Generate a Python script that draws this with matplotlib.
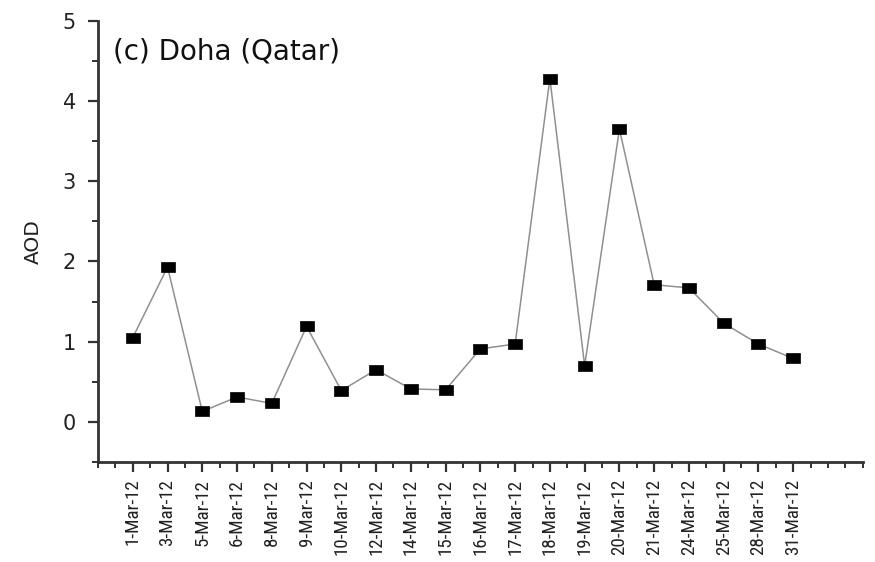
import matplotlib
matplotlib.use("Agg")
import matplotlib.pyplot as plt
from matplotlib.ticker import MultipleLocator
from matplotlib import font_manager
from matplotlib.font_manager import FontProperties

dates = ["1-Mar-12", "3-Mar-12", "5-Mar-12", "6-Mar-12", "8-Mar-12", "9-Mar-12",
         "10-Mar-12", "12-Mar-12", "14-Mar-12", "15-Mar-12", "16-Mar-12", "17-Mar-12",
         "18-Mar-12", "19-Mar-12", "20-Mar-12", "21-Mar-12", "24-Mar-12", "25-Mar-12",
         "28-Mar-12", "31-Mar-12"]
aod = [1.05, 1.93, 0.13, 0.31, 0.23, 1.19, 0.39, 0.65, 0.41, 0.40, 0.91, 0.97,
       4.28, 0.70, 3.65, 1.71, 1.67, 1.23, 0.97, 0.79]
yticks = [0, 1, 2, 3, 4, 5]

# look for a condensed / narrow sans font for the rotated date labels
cands = []
for f in font_manager.fontManager.ttflist:
    nm = f.name.lower()
    st = str(f.stretch).lower()
    fn = f.fname.lower()
    if f.style != "normal" or f.weight not in (400, "normal", "regular"):
        continue
    if ("narrow" in nm or "condensed" in nm or "condensed" in st or "condensed" in fn or "narrow" in fn):
        if "bold" in fn or "italic" in fn or "oblique" in fn:
            continue
        if "mono" in nm or "serif" in nm and "sans" not in nm:
            continue
        cands.append(f.fname)
cands.sort(key=lambda p: (0 if "liberation" in p.lower() else 1 if "roboto" in p.lower() else 2 if "dejavu" in p.lower() else 3))
if cands:
    xfont = FontProperties(fname=cands[0], size=13.7)
else:
    xfont = FontProperties(family="DejaVu Sans", size=11)

plt.rcParams['font.family'] = ['DejaVu Sans']

fig = plt.figure(figsize=(8.75, 5.62), dpi=100)
ax = fig.add_axes([0.112, 0.178, 0.874, 0.785])

x = list(range(1, len(dates) + 1))
rect = [(-1.33, -1), (1.33, -1), (1.33, 1), (-1.33, 1), (-1.33, -1)]
ax.plot(x, aod, color="#909090", lw=1.1, zorder=1)
ax.plot(x, aod, ls="none", marker=rect, ms=9.8, mfc="black", mec="black", mew=0.5, zorder=2)

ax.set_xlim(0, 22)
ax.set_ylim(-0.5, 5)
ax.set_xticks(x)
ax.set_xticklabels(dates, rotation=90, color="#222222")
for lab in ax.get_xticklabels():
    lab.set_fontproperties(xfont)
ax.xaxis.set_minor_locator(MultipleLocator(0.5))
ax.set_yticks(yticks)
ax.set_yticklabels([str(v) for v in yticks], fontsize=15, color="#222222")
ax.yaxis.set_minor_locator(MultipleLocator(0.5))

for s in ["top", "right"]:
    ax.spines[s].set_visible(False)
for s in ["left", "bottom"]:
    ax.spines[s].set_linewidth(2.0)
    ax.spines[s].set_color("#333333")

ax.tick_params(which="major", direction="out", length=7, width=1.6, color="#333333")
ax.tick_params(which="minor", direction="out", length=4, width=1.4, color="#333333")
ax.tick_params(axis="y", pad=9)
ax.tick_params(axis="x", pad=5)

ax.set_ylabel("AOD", fontsize=14.5, color="#222222", labelpad=14)
ax.text(0.019, 0.93, "(c) Doha (Qatar)", transform=ax.transAxes, fontsize=20,
        color="#111111", va="center", ha="left")

fig.savefig("out.png", dpi=100)
